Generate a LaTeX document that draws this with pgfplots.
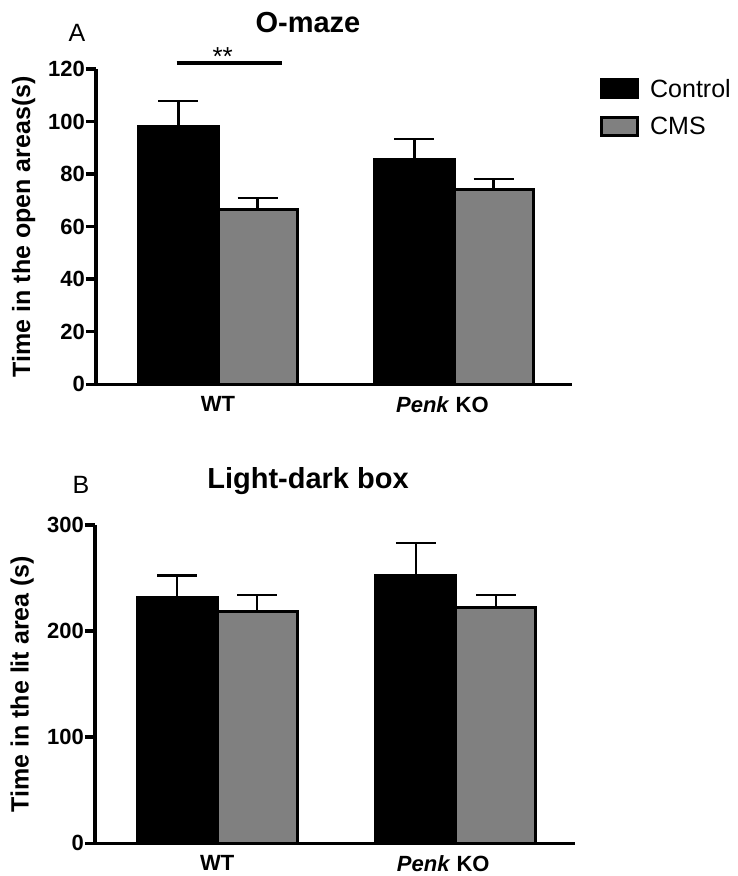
\documentclass[border=0pt]{standalone}
\usepackage{pgfplots}
\pgfplotsset{compat=1.18}
\usepackage{fontspec}
\setmainfont{Liberation Sans}
\definecolor{cmsgray}{RGB}{128,128,128}
\pgfplotsset{
  mystyle/.style={
    scale only axis,
    axis x line*=bottom,
    axis y line*=left,
    axis line style={line width=3.5pt, black},
    major tick style={line width=3.5pt, black},
    major tick length=10pt,
    tick align=outside,
    xtick={0,0.951},
    xticklabels={WT,{\textit{Penk} KO}},
    xtick style={draw=none},
    xmin=-0.517, xmax=1.5,
    ymin=0,
    /pgf/number format/assume math mode=true,
    yticklabel style={font=\fontsize{22}{26}\selectfont\bfseries, inner sep=1pt},
    xticklabel style={font=\fontsize{22}{26}\selectfont\bfseries, inner sep=2pt},
    ylabel style={font=\fontsize{25}{30}\selectfont\bfseries, at={(axis description cs:-0.152,0.5)}, anchor=center},
    ybar=0pt,
    bar width=0.335,
    clip=false,
    error bars/y dir=plus,
    error bars/y explicit,
    error bars/error bar style={line width=2.5pt, black},
    error bars/error mark options={line width=2.5pt, black, mark size=20pt, rotate=90},
  },
  ctrl/.style={fill=black, draw=black, line width=3pt, bar shift=-0.1675},
  cms/.style={fill=cmsgray, draw=black, line width=3pt, bar shift=0.1675},
}
\begin{document}
\begin{tikzpicture}[x=1pt,y=1pt]
\path[use as bounding box] (0,0) rectangle (738,876);
\begin{axis}[mystyle,
  at={(96pt,491.7pt)}, anchor=south west,
  width=476pt, height=315.3pt,
  ymax=120, ytick={0,20,40,60,80,100,120},
  ylabel={Time in the open areas(s)},
  legend cell align=left,
  legend style={at={(1.0588,0.975)}, anchor=north west, draw=none, fill=none,
    inner sep=0pt, row sep=14pt, font=\fontsize{25}{30}\selectfont,
    nodes={inner sep=2pt}},
  legend image code/.code={\draw[#1, line width=3pt] (0pt,-9pt) rectangle (36pt,9pt);},
]
\addplot[ctrl] coordinates {(0,98.1) +- (0,9.8) (1,85.4) +- (0,7.9)};
\addlegendentry{\hspace{9pt}Control}
\addplot[cms] coordinates {(0,66.7) +- (0,4.2) (1,74.3) +- (0,3.8)};
\addlegendentry{\hspace{9pt}CMS}
\draw[line width=3.5pt] (axis cs:-0.175,122.3) -- (axis cs:0.27,122.3);
\node[anchor=base, font=\fontsize{26}{30}\selectfont, inner sep=0pt] at (axis cs:0.02,121.2) {**};
\end{axis}
\begin{axis}[mystyle,
  at={(95pt,32.7pt)}, anchor=south west,
  width=480pt, height=318.3pt,
  xmin=-0.512, xmax=1.499,
  xtick={0,0.947},
  ymax=300, ytick={0,100,200,300},
  ylabel={Time in the lit area (s)},
]
\addplot[ctrl] coordinates {(0,232) +- (0,20.2) (1,252.5) +- (0,30.5)};
\addplot[cms] coordinates {(0,218.5) +- (0,15.5) (1,222.6) +- (0,11.6)};
\end{axis}
\node[anchor=base, font=\fontsize{29}{33}\selectfont\bfseries] at (308,843) {O-maze};
\node[anchor=base, font=\fontsize{25}{30}\selectfont] at (77,834) {A};
\node[anchor=base, font=\fontsize{29}{33}\selectfont\bfseries] at (308,387.7) {Light-dark box};
\node[anchor=base, font=\fontsize{25}{30}\selectfont] at (81,382.7) {B};
\end{tikzpicture}
\end{document}
